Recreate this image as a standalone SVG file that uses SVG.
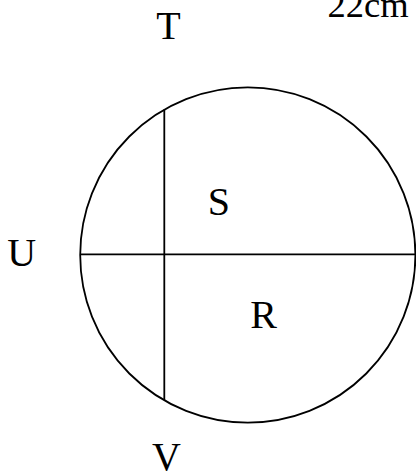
<svg xmlns="http://www.w3.org/2000/svg" width="416" height="472" viewBox="0 0 416 472">
<style>
.ln{fill:none;stroke:#000;stroke-width:1.8}
.lb{font-family:"Liberation Serif","Times New Roman",serif;font-size:40px;fill:#000;text-anchor:middle}
</style>
<rect width="416" height="472" fill="#fff"/>
<g id="circle"><circle class="ln" cx="247.8" cy="255" r="167.6"/></g>
<g id="connectors">
<line class="ln" x1="80.2" y1="254.4" x2="416" y2="254.4"/>
<line class="ln" x1="164.3" y1="109.5" x2="164.3" y2="400"/>
</g>
<g id="label-T"><text class="lb" x="168.5" y="38.5">T</text></g>
<g id="label-U"><text class="lb" x="21.7" y="266">U</text></g>
<g id="label-V"><text class="lb" x="166.5" y="470">V</text></g>
<g id="label-S"><text class="lb" x="218.8" y="214.5">S</text></g>
<g id="label-R"><text class="lb" x="263.7" y="328">R</text></g>
<g id="label-22cm"><text class="lb" x="368" y="17" style="font-size:36.5px">22cm</text></g>
</svg>
